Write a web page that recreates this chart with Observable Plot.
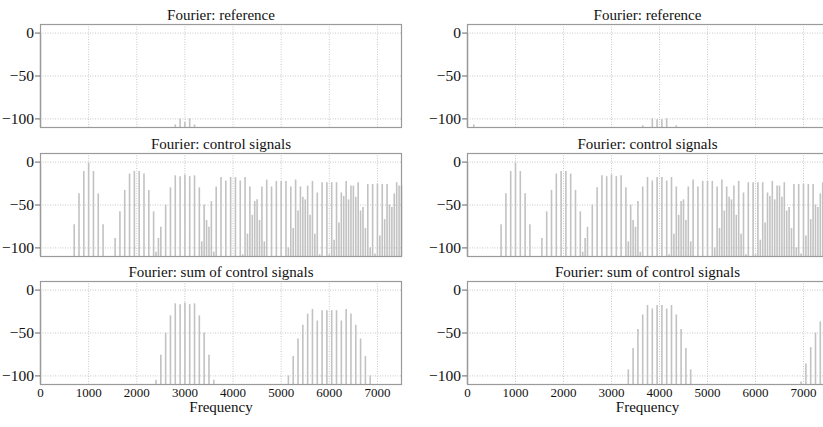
<!DOCTYPE html>
<html>
<head>
<meta charset="utf-8">
<script src="https://cdn.jsdelivr.net/npm/d3@7"></script>
<script src="https://cdn.jsdelivr.net/npm/@observablehq/plot@0.6"></script>
<style>
  html, body { margin: 0; padding: 0; background: #fff; }
  #root { position: relative; width: 823px; height: 427px; overflow: hidden; background: #fff; }
  #root > svg { position: absolute; }
</style>
</head>
<body>
<div id="root"></div>
<script>
// ---------- data ----------
const xTicks = [0, 1000, 2000, 3000, 4000, 5000, 6000, 7000];
const yTicks = [0, -50, -100];
const xDomain = [0, 7500];
const yDomain = [-110, 10];

const titles = ["Fourier: reference", "Fourier: control signals", "Fourier: sum of control signals"];
const xLabel = "Frequency";

// reference (left / right)
const refLeftFreq = [0, 2800, 2900, 3000, 3100, 3200];
const refLeftVal  = [0, -107, -100, -104, -100, -107];
const refRightFreq = [0, 130, 3650, 3850, 3950, 4050, 4150, 4350];
const refRightVal  = [0, -107, -108, -100, -101, -101, -100, -108];

// control signals (same in both columns)
const ctrlFreq = [
  0,
  700, 800, 900, 1000, 1100, 1200, 1300,
  1550, 1650, 1750, 1850, 1950, 2050, 2150, 2250, 2350, 2450,
  2400, 2500, 2600, 2700, 2800, 2900, 3000, 3100, 3200, 3300, 3400, 3500, 3600,
  3350, 3450, 3550, 3650, 3750, 3850, 3950, 4050, 4150, 4250, 4350, 4450, 4550, 4650,
  4200, 4300, 4400, 4500, 4600, 4700, 4800, 4900, 5000, 5100, 5200, 5300, 5400, 5500, 5600, 5700, 5800,
  5150, 5250, 5350, 5450, 5550, 5650, 5750, 5850, 5950, 6050, 6150, 6250, 6350, 6450, 6550, 6650, 6750, 6850,
  6000, 6100, 6200, 6300, 6400, 6500, 6600, 6700, 6800, 6900, 7000, 7100, 7200, 7300, 7400, 7500,
  6950, 7050, 7150, 7250, 7350, 7450
];
const ctrlVal = [
  0,
  -73, -37, -11, -1, -11, -37, -73,
  -89, -58, -33, -14, -11, -11, -14, -33, -58, -89,
  -105, -76, -50, -30, -16, -17, -15, -17, -16, -30, -50, -76, -105,
  -93, -68, -46, -29, -18, -22, -18, -18, -22, -18, -29, -46, -68, -93,
  -108, -84, -62, -44, -29, -21, -29, -22.5, -22.5, -22.5, -29, -21, -29, -44, -62, -84, -108,
  -100, -77.5, -57, -41, -28, -22.5, -36, -24, -24, -24, -24, -36, -22.5, -28, -41, -57, -77.5, -100,
  -108, -91, -71, -40, -44, -28, -24, -53, -26, -26, -26, -26, -26, -53, -24, -28,
  -107, -86, -67, -50, -37, -28
];

// sum of control signals (left / right)
const sumLeftFreq = [
  0,
  2400, 2500, 2600, 2700, 2800, 2900, 3000, 3100, 3200, 3300, 3400, 3500, 3600,
  5150, 5250, 5350, 5450, 5550, 5650, 5750, 5850, 5950, 6050, 6150, 6250, 6350, 6450, 6550, 6650, 6750, 6850
];
const sumLeftVal = [
  0,
  -105, -76, -50, -30, -16, -17, -15, -17, -16, -30, -50, -76, -105,
  -100, -77.5, -57, -41, -28, -22.5, -36, -24, -24, -24, -24, -36, -22.5, -28, -41, -57, -77.5, -100
];
const sumRightFreq = [
  0,
  3350, 3450, 3550, 3650, 3750, 3850, 3950, 4050, 4150, 4250, 4350, 4450, 4550, 4650,
  6950, 7050, 7150, 7250, 7350, 7450
];
const sumRightVal = [
  0,
  -93, -68, -46, -29, -18, -22, -18, -18, -22, -18, -29, -46, -68, -93,
  -107, -86, -67, -50, -37, -28
];

// ---------- drawing ----------
const root = document.getElementById("root");
const FONT = "'Liberation Serif', 'Times New Roman', Times, serif";
const fmtY = d => (d < 0 ? "\u2212" : "") + Math.abs(d);

function panel({freq, val, title, left, top, bottomAxis, marginLeft, width, plotW}) {
  const data = freq.map((f, i) => ({f, v: val[i]}));
  const marginTop = 24, plotH = 103;
  const marginBottom = bottomAxis ? 43 : 2;
  const marks = [
    Plot.gridX(xTicks, {stroke: "#c8c8c8", strokeOpacity: 1, strokeDasharray: "1,1.5"}),
    Plot.gridY(yTicks, {stroke: "#c8c8c8", strokeOpacity: 1, strokeDasharray: "1,1.5"}),
    Plot.ruleX(data, {x: "f", y1: yDomain[0], y2: "v", stroke: "#c2c2c2", strokeWidth: 1.6}),
    Plot.frame({stroke: "#9a9a9a", strokeWidth: 1.2}),
    Plot.axisY(yTicks, {label: null, tickSize: 5, tickPadding: 0, tickFormat: () => "", stroke: "#666"}),
    Plot.text(yTicks, {y: d => d, text: fmtY, frameAnchor: "left", textAnchor: "end", dx: -6.5,
      fontSize: 15.5, fontFamily: FONT, fill: "#111"}),
    Plot.text([title], {frameAnchor: "top", lineAnchor: "bottom", dy: -5, fontSize: 15, fontFamily: FONT, fill: "#111"})
  ];
  if (bottomAxis) {
    marks.push(Plot.text(xTicks, {x: d => d, text: d => String(d), frameAnchor: "bottom", lineAnchor: "top", dy: 3,
      fontSize: 13, fontFamily: FONT, fill: "#111"}));
    marks.push(Plot.text([xLabel], {frameAnchor: "bottom", lineAnchor: "bottom", dy: 27,
      fontSize: 15, fontFamily: FONT, fill: "#111"}));
  }
  const svg = Plot.plot({
    width, height: marginTop + plotH + marginBottom,
    marginTop, marginBottom, marginLeft, marginRight: width - marginLeft - plotW,
    x: {domain: xDomain, axis: null},
    y: {domain: yDomain, axis: null},
    style: {fontFamily: FONT, fontSize: "14px", color: "#111", background: "transparent", overflow: "visible"},
    marks
  });
  svg.style.left = left + "px";
  svg.style.top = top + "px";
  root.appendChild(svg);
}

const rowTops = [0, 129, 257];
const cols = [
  {left: 0, marginLeft: 40, width: 404, plotW: 361},
  {left: 426, marginLeft: 41, width: 403, plotW: 360}
];
const sets = [
  [[refLeftFreq, refLeftVal], [refRightFreq, refRightVal]],
  [[ctrlFreq, ctrlVal], [ctrlFreq, ctrlVal]],
  [[sumLeftFreq, sumLeftVal], [sumRightFreq, sumRightVal]]
];
rowTops.forEach((top, r) => {
  cols.forEach((c, ci) => {
    panel({
      freq: sets[r][ci][0], val: sets[r][ci][1], title: titles[r],
      left: c.left, top, bottomAxis: r === 2, marginLeft: c.marginLeft, width: c.width, plotW: c.plotW
    });
  });
});
</script>
</body>
</html>
